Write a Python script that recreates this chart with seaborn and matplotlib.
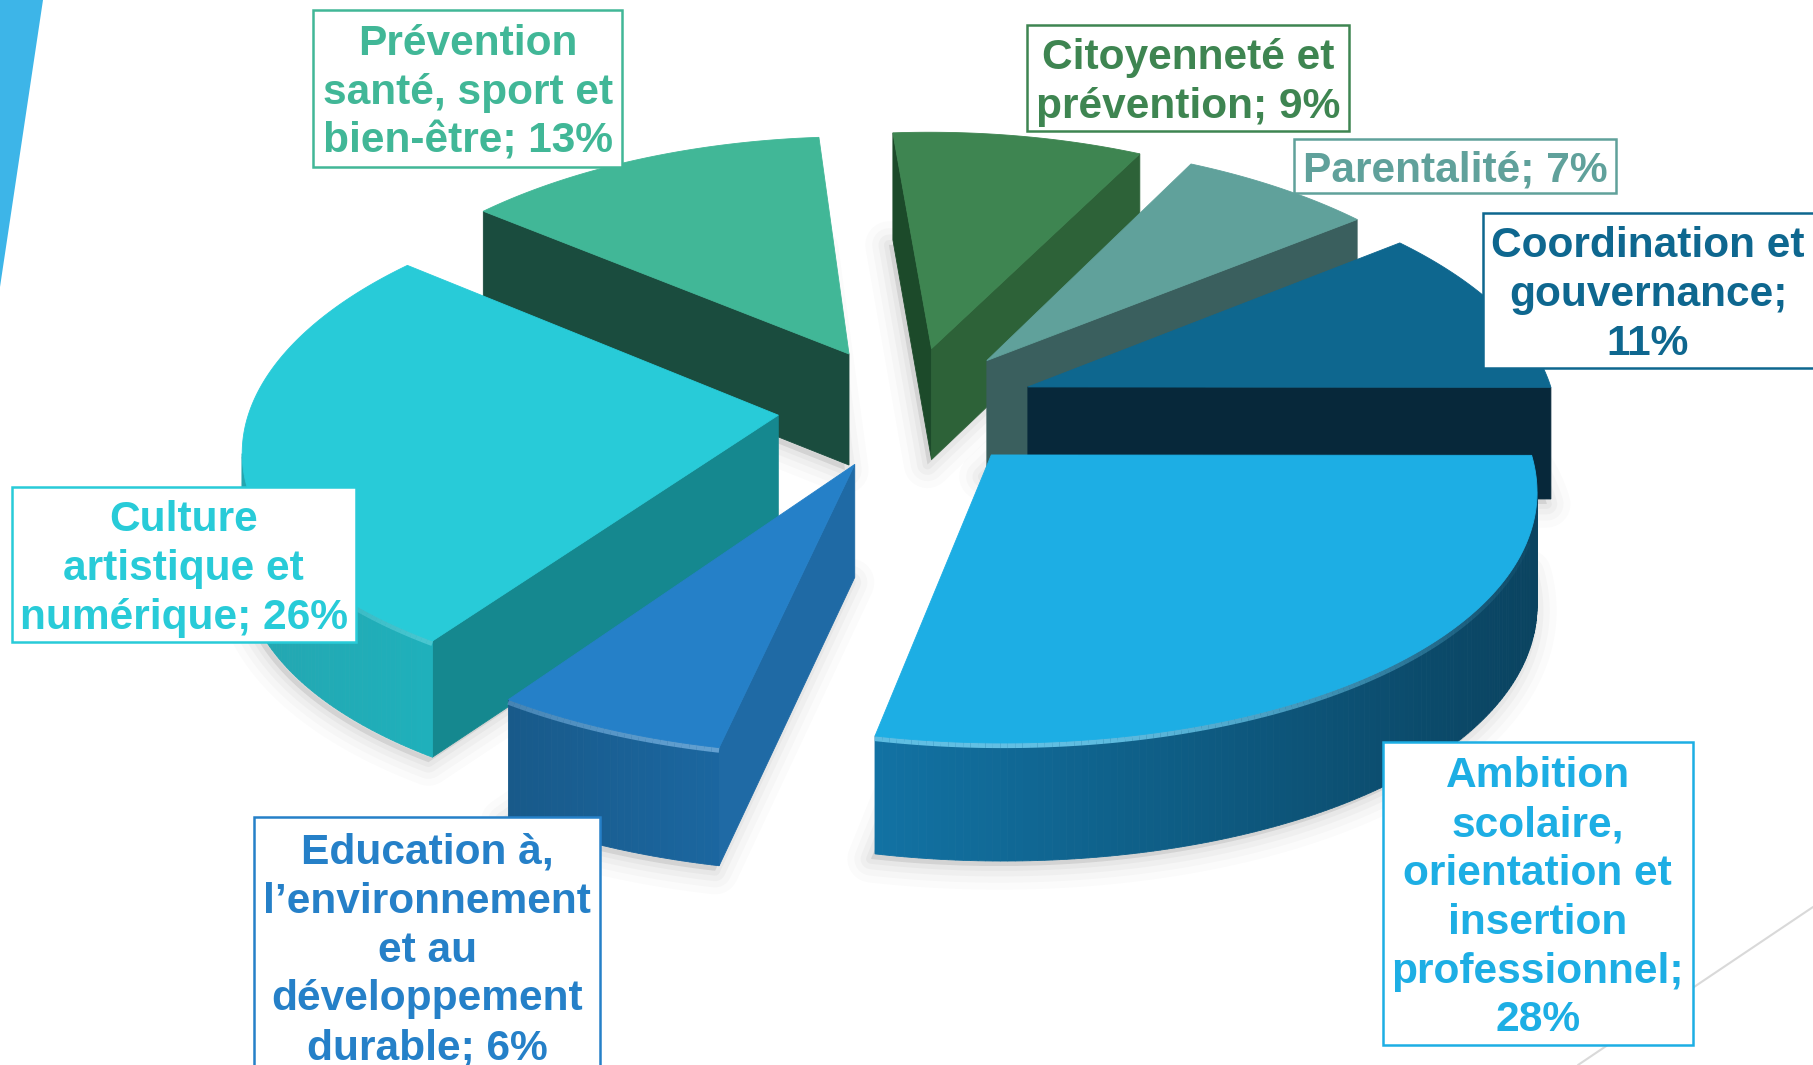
import numpy as np
import matplotlib
matplotlib.use("Agg")
import matplotlib.pyplot as plt
from matplotlib.patches import Polygon, Rectangle
from matplotlib.colors import to_rgb
import seaborn as sns

# ---- data ----
CATEGORIES = ["Citoyenneté et\nprévention", "Parentalité", "Coordination et\ngouvernance",
              "Ambition\nscolaire,\norientation et\ninsertion\nprofessionnel",
              "Education à,\nl’environnement\net au\ndéveloppement\ndurable",
              "Culture\nartistique et\nnumérique", "Prévention\nsanté, sport et\nbien-être"]
VALUES = [9, 7, 11, 28, 6, 26, 13]
LABEL_END = ["; ", "; ", ";\n", ";\n", "; ", "; ", "; "]

# ---- styles ----
TOP = ["#3e8551", "#60a19b", "#0e678f", "#1daee4", "#2580c8", "#28cbd8", "#41b797"]
CUT_A = ["#1c4a2a", "#3a5f5e", "#0d5878", "#0c5a80", "#1f6aa5", "#15888f", "#1a4c3e"]
CUT_B = ["#2d6238", "#3a5f5e", "#07283a", "#0c5a80", "#1f6aa5", "#15888f", "#1a4c3e"]
OUTER_L = ["#2d6238", "#3a5f5e", "#07283a", "#0a4360", "#1b669f", "#1fb0bb", "#1a4c3e"]
OUTER_R = ["#2d6238", "#3a5f5e", "#07283a", "#1272a3", "#185a8a", "#24a6b0", "#1a4c3e"]
DRAW_ORDER = [0, 6, 1, 2, 5, 4, 3]
BOXES = [(888, 22, 1167, 113), (1119, 120, 1398, 167), (1283, 184, 1590, 318),
         (1196, 642, 1464, 904), (220, 707, 519, 945), (10, 421, 308, 555), (271, 9, 538, 144)]
K = 1813 / 1568

# ---- geometry params (full-size px) ----
CX, CY = 907, 407
RX, RY = 528, 249
PX, PY = 0.12, 0.10
H = 112
EXPLODE = 0.245


def rotated(deg):
    """view angle: the chart's 3-D rotation, slightly uneven around the disc"""
    t = np.radians(deg)
    return t + np.radians(-5.5 - 1.5 * np.sin(t) + np.cos(t))


def project(X, Y, z=0.0):
    sx = 1.0 / (1.0 + PX * Y)
    sy = 1.0 / (1.0 + PY * Y)
    return CX + RX * X * sx, CY - RY * Y * sy + z * H * (1 + 0.4 * (sy - 1))


sns.set_theme(style="white")
fig = plt.figure(figsize=(18.13, 10.65), dpi=100, facecolor="white")
ax = fig.add_axes([0, 0, 1, 1])
ax.set_xlim(0, 1813)
ax.set_ylim(1065, 0)
ax.axis("off")
palette = sns.color_palette(TOP)

# decoration
ax.add_patch(Polygon([(0, 0), (43, 0), (0, 287)], closed=True, fc="#3db5e8", ec="none", zorder=0))
ax.plot([1813, 1578], [907, 1065], color="#d9d9d9", lw=1.5, zorder=0)

fracs = np.array(VALUES, float) / sum(VALUES)
edges = np.concatenate([[0], np.cumsum(fracs)]) * 360

geo = []
for i in range(len(VALUES)):
    mid = rotated((edges[i] + edges[i + 1]) / 2)
    ox, oy = EXPLODE * np.sin(mid), EXPLODE * np.cos(mid)
    th = rotated(np.linspace(edges[i], edges[i + 1], max(8, int((edges[i + 1] - edges[i]) * 1.5))))
    geo.append((ox, oy, th))

# soft shadows
for i in DRAW_ORDER:
    ox, oy, th = geo[i]
    xs, ys = project(ox + np.sin(th), oy + np.cos(th), 1.0)
    tx, ty = project(ox, oy, 1.0)
    poly = np.vstack([[tx, ty], np.column_stack([xs, ys])])
    poly[:, 0] -= 4
    poly[:, 1] += 5
    for lw, al in [(34, 0.03), (24, 0.04), (15, 0.05), (7, 0.07)]:
        ax.add_patch(Polygon(poly, closed=True, fc="#808080", ec="#808080", lw=lw, alpha=al,
                             joinstyle="round", zorder=1))

z = 2
for i in DRAW_ORDER:
    ox, oy, th = geo[i]
    X = ox + np.sin(th)
    Y = oy + np.cos(th)
    tx0, ty0 = project(ox, oy, 0)
    tx1, ty1 = project(ox, oy, 1)
    xa, ya = project(X, Y, 0)
    xb, yb = project(X, Y, 1)

    # first cut (tip -> first corner), visible when moving left
    if xa[0] < tx0:
        ax.add_patch(Polygon([(tx0, ty0), (xa[0], ya[0]), (xb[0], yb[0]), (tx1, ty1)],
                             closed=True, fc=CUT_A[i], ec=CUT_A[i], lw=0.6, zorder=z))
    # last cut (last corner -> tip)
    if tx0 < xa[-1]:
        ax.add_patch(Polygon([(tx0, ty0), (xa[-1], ya[-1]), (xb[-1], yb[-1]), (tx1, ty1)],
                             closed=True, fc=CUT_B[i], ec=CUT_B[i], lw=0.6, zorder=z))
    # outer wall, one strip per visible arc step, shaded from left to right
    vis = np.where(np.diff(xa) < 0)[0]
    if len(vis):
        xmin, xmax = xa[vis].min(), xa[vis + 1].max()
        cl, cr = np.array(to_rgb(OUTER_L[i])), np.array(to_rgb(OUTER_R[i]))
        for j in vis:
            t = (xa[j] - xmin) / max(xmax - xmin, 1)
            c = cl * t + cr * (1 - t)
            ax.add_patch(Polygon([(xa[j], ya[j]), (xa[j + 1], ya[j + 1]), (xb[j + 1], yb[j + 1]), (xb[j], yb[j])],
                                 closed=True, fc=c, ec=c, lw=0.6, zorder=z))
        # light rim along the front edge, strongest nearest the viewer
        rim = np.array(to_rgb(TOP[i])) * 0.65 + 0.35
        for j in vis:
            a = max(0.0, -np.cos(th[j])) ** 3
            if a > 0.03:
                ax.plot(xa[j:j + 2], ya[j:j + 2] + 2, color=rim, lw=4.5, alpha=0.9 * a,
                        solid_capstyle="butt", zorder=z + 0.1)
    # top surface
    ax.add_patch(Polygon(np.vstack([[tx0, ty0], np.column_stack([xa, ya])]), closed=True,
                         fc=palette[i], ec=palette[i], lw=0.6, zorder=z + 0.2))
    z += 1

# labels
for i, (cat, val, sep, box) in enumerate(zip(CATEGORIES, VALUES, LABEL_END, BOXES)):
    x0, y0, x1, y1 = [v * K for v in box]
    ax.add_patch(Rectangle((x0, y0), x1 - x0, y1 - y0, fc="white", ec=TOP[i], lw=1.8, zorder=50))
    txt = f"{cat}{sep}{val}%"
    ax.text((x0 + x1) / 2 if i != 2 else 1648, ((y0 + y1) / 2 if i != 4 else 946) + 4.6, txt, ha="center", va="center",
            color=TOP[i], fontsize=30.6, fontweight="bold", family=["Liberation Sans"],
            linespacing=1.285, zorder=51)

fig.savefig("out.png", dpi=100)
